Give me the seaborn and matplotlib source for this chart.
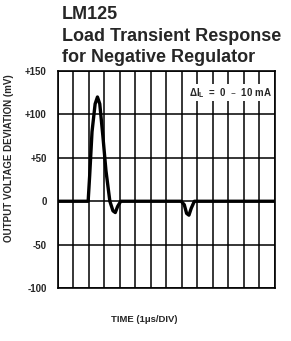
import matplotlib
matplotlib.use("Agg")
import matplotlib.pyplot as plt
import seaborn as sns
import pandas as pd

# --- data ---
time_div = [0, 1.95, 2.05, 2.2, 2.4, 2.55, 2.7, 2.9, 3.1, 3.35, 3.55, 3.7, 3.85, 4.05,
            7.95, 8.15, 8.3, 8.45, 8.6, 8.8, 14]
dev_mv = [0, 0, 30, 80, 112, 120, 112, 75, 35, 0, -11, -13, -6, 0,
          0, -4, -14, -16, -8, 0, 0]
y_ticks = [-100, -50, 0, 50, 100, 150]
y_tick_labels = ["-100", "-50", "0", "+50", "+100", "+150"]
title_lines = ["LM125", "Load Transient Response", "for Negative Regulator"]

df = pd.DataFrame({"t": time_div, "mv": dev_mv})

sns.set_theme(style="white")
plt.rcParams["font.family"] = ["Liberation Sans", "DejaVu Sans"]

fig = plt.figure(figsize=(2.91, 3.41), dpi=100)
ax = fig.add_axes([0.199, 0.155, 0.746, 0.637])

sns.lineplot(data=df, x="t", y="mv", ax=ax, color="black", linewidth=2.4,
             sort=False, estimator=None)

ax.set_xlim(0, 14)
ax.set_ylim(-100, 150)
ax.set_xticks(range(0, 15))
ax.set_xticklabels([])
ax.set_yticks(y_ticks)
ax.set_yticklabels(y_tick_labels, fontsize=7, fontweight="bold")
ax.tick_params(axis="both", length=0, pad=8)
ax.grid(True, color="black", linewidth=1.1)
for s in ax.spines.values():
    s.set_color("black")
    s.set_linewidth(1.2)

ax.set_xlabel("TIME (1\u03bcs/DIV)", fontsize=6.8, fontweight="bold")
ax.xaxis.set_label_coords(0.40, -0.125)
ax.set_ylabel("OUTPUT VOLTAGE DEVIATION (mV)", fontsize=7, fontweight="bold")
ax.yaxis.set_label_coords(-0.2, 0.60)

ax.text(0.985, 0.90, "\u0394I$_\\mathregular{L}$  =  0  \u2013  10 mA", transform=ax.transAxes,
        ha="right", va="center", fontsize=7, fontweight="bold",
        bbox=dict(facecolor="white", edgecolor="none", pad=1))

for i, line in enumerate(title_lines):
    fig.text(0.212, 0.958 - i * 0.064, line, fontsize=13, fontweight="bold",
             ha="left", va="center")

fig.savefig("out.png", dpi=100)
